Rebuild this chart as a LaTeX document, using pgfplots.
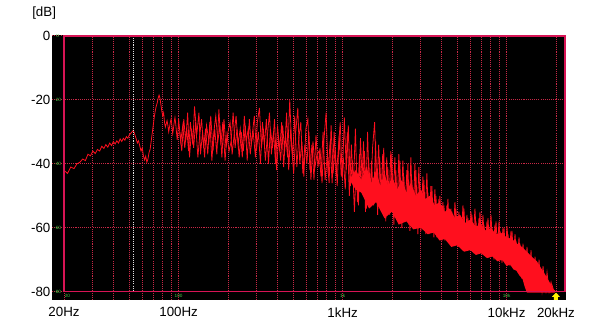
\documentclass[border=0pt]{standalone}
\usepackage{pgfplots}
\pgfplotsset{compat=1.18}
\usepackage{fontspec}
\setmainfont{Liberation Sans}
\definecolor{gridred}{RGB}{200,40,70}
\definecolor{framered}{RGB}{215,20,85}
\definecolor{specred}{RGB}{255,15,30}
\definecolor{tagg}{RGB}{70,200,70}
\begin{document}
\begin{tikzpicture}
\useasboundingbox (0,0) rectangle (450pt,249pt);
\node[anchor=base west,font=\fontsize{10}{12}\selectfont,inner sep=0pt] at (24pt,236.5pt) {[dB]};
\begin{axis}[
  at={(39pt,24pt)}, anchor=south west,
  scale only axis, width=385.5pt, height=198.75pt,
  xmode=log, xmin=16.9, xmax=23020, ymin=-82.6, ymax=0.3,
  axis background/.style={fill=black},
  axis line style={draw=none},
  major tick length=0pt, minor tick length=0pt,
  xtick={20,100,1000,10000,20000},
  xticklabels={20Hz,100Hz,1kHz,10kHz,20kHz},
  minor xtick={30,40,50,60,70,80,90,200,300,400,500,600,700,800,900,2000,3000,4000,5000,6000,7000,8000,9000},
  ytick={0,-20,-40,-60,-80},
  yticklabels={0,-20,-40,-60,-80},
  ticklabel style={font=\fontsize{10}{12}\selectfont},
  yticklabel style={inner sep=1pt},
  xticklabel style={yshift=-2pt},
  xmajorgrids, xminorgrids, ymajorgrids,
  major grid style={gridred, line width=0.7pt, dash pattern=on 0.8pt off 0.8pt},
  minor grid style={gridred, line width=0.7pt, dash pattern=on 0.8pt off 0.8pt},
  clip=true,
]
% dense high-frequency band
\addplot[fill=specred, draw=none] coordinates {
(1100,-45) (1200,-42) (1300,-45) (1400,-41) (1500,-46) (1600,-42) (1700,-47) (1800,-43) (1900,-47) (2000,-44) (2150,-48) (2300,-45) (2450,-49) (2600,-46) (2800,-50) (3000,-48) (3200,-51) (3400,-50) (3650,-53) (3900,-52) (4200,-55) (4500,-54) (4850,-57) (5200,-56) (5600,-58.5) (6000,-57.5) (6500,-59.5) (7000,-59) (7500,-61) (8000,-60) (8600,-62) (9200,-61.5) (10000,-63) (10800,-63.5) (11600,-65) (12400,-66) (13300,-67.5) (14200,-69) (15300,-70.5) (16400,-73) (17600,-75.5) (18700,-78) (19700,-80.3)
(13300,-80.3) (12900,-78.5) (12500,-76) (12000,-75) (11500,-73.5) (11000,-73) (10500,-71.5) (10000,-72) (9400,-70) (8800,-70.5) (8200,-69) (7600,-69.5) (7000,-68) (6500,-68.5) (6000,-67) (5500,-67.5) (5000,-65.5) (4600,-66) (4200,-63.5) (3900,-64) (3600,-61.5) (3300,-62) (3000,-60) (2700,-60.5) (2450,-58) (2200,-59) (2000,-55) (1800,-57) (1600,-52) (1450,-54) (1300,-49) (1200,-48)
} -- cycle;
% spectrum line (second interleaved trace)
\addplot[specred, line width=0.6pt] coordinates {
(101.5,-30) (104.5,-36) (107.5,-26) (110.5,-33) (113.5,-24) (116.5,-38) (120,-29) (123.5,-35) (127,-27) (131,-38)
(134.5,-31) (138,-26) (142,-35) (146,-29) (150.5,-37) (155,-27) (159.5,-39) (164,-30) (168.5,-25) (173.5,-33)
(178.5,-28) (183.5,-38) (189,-26) (194.5,-35) (200,-30) (206,-27) (212,-37) (218,-31) (224,-25) (230.5,-34)
(237.5,-29) (244.5,-38) (251.5,-25) (258.5,-33) (266,-29) (273.5,-37) (281,-31) (289.5,-25) (298,-36) (306.5,-30)
(315.5,-40) (324.5,-27) (333.5,-34) (343,-26) (353,-40) (363,-29) (373.5,-35) (384.5,-26) (395.5,-42) (407,-32)
(419,-39) (431,-28) (443,-36) (455.5,-24) (469,-42) (482.5,-29) (496,-38) (510.5,-25) (525.5,-41) (540.5,-32)
(556,-27) (572,-43) (588.5,-34) (605.5,-40) (623,-30) (641,-45) (659.5,-33) (678.5,-41) (698,-37)
(718,-36) (738,-44) (760,-30) (782,-45) (804,-38) (827,-46) (851,-28) (875,-43) (901,-35) (927,-47)
(953,-31) (981,-44) (1009,-38) (1038,-48) (1068,-30) (1099,-50) (1131,-34) (1163,-47) (1197,-29) (1231,-52)
(1267,-37) (1303,-49) (1341,-33) (1379,-55) (1419,-30) (1460,-51) (1502,-39) (1545,-53) (1589,-33) (1635,-56)
(1683,-38) (1731,-54) (1781,-35) (1832,-58) (1885,-41) (1939,-56) (1995,-37) (2053,-59) (2111,-42) (2171,-57)
(2233,-39) (2297,-60) (2363,-44) (2430,-58) (2500,-40) (2571,-61) (2644,-45) (2720,-59) (2797,-42) (2877,-62)
(2959,-46) (3044,-60) (3131,-45) (3220,-62) (3311,-49) (3405,-61) (3503,-47) (3603,-63) (3706,-50) (3812,-62)
(3921,-50) (4032,-64) (4147,-53) (4266,-63) (4387,-51) (4512,-65) (4641,-55) (4774,-64) (4910,-54) (5050,-66)
(5194,-56) (5342,-65) (5494,-54) (5651,-67) (5812,-57) (5978,-66) (6148,-56) (6324,-68) (6504,-58) (6690,-67)
(6880,-55) (7076,-68) (7278,-59) (7486,-69) (7699,-57) (7919,-68) (8145,-60) (8377,-70) (8616,-58) (8861,-69)
(9114,-61) (9374,-71) (9641,-60) (9916,-70) (10198,-62) (10489,-72) (10788,-61) (11096,-73) (11412,-64) (11738,-74)
(12072,-65) (12416,-76) (12770,-67) (13134,-78) (13509,-68) (13894,-80) (14290,-70) (14697,-80) (15116,-71) (15547,-80)
(15990,-73) (16446,-80) (16914,-75) (17396,-80) (17892,-77) (18402,-80) (18926,-78) (19465,-80)
};
% spectrum line (main trace)
\addplot[specred, line width=0.6pt] coordinates {
(20,-42) (21,-43) (22,-41) (23,-41.5) (24,-40) (25,-39.5) (26,-38.5) (27,-39) (28,-37) (29,-37.5)
(30,-36) (31,-36.8) (32,-35.5) (33,-36) (34,-34.5) (35,-35.2) (36,-34) (37,-34.8) (38,-33.5) (39,-34.3)
(40,-33) (41,-33.8) (42,-32.8) (43,-33.5) (44,-32.2) (45,-33) (46,-32) (47,-32.6) (48,-31.5) (49,-32)
(50,-31) (51,-30.5) (52,-30) (53,-29.5) (54,-30.8) (55,-32) (56,-33.5) (57,-32.8) (58,-34.5) (59,-36)
(60,-35) (61,-37.5) (62,-38.8) (63,-37.6) (64,-39.5) (65,-38.5) (66,-36.5) (67,-35.5) (68,-33) (69,-30.5)
(70,-28) (71,-25.5) (72,-23.5) (73,-22) (74,-21) (75,-19.5) (76,-18.5) (77,-19.5) (78,-21.5) (79,-23.5)
(80,-25) (81,-24) (82,-27) (83,-28.5) (84,-27.5) (85,-26.5) (86,-28) (87,-30) (88,-28.5) (89,-27)
(90,-26) (91,-28) (92,-30.5) (93,-29) (94,-27) (95,-25.5) (96,-27.5) (97,-30) (98,-32.5) (99,-30)
(100,-26) (103,-33) (106,-28) (109,-35) (112,-29) (115,-36) (118,-27) (122,-34) (125,-22) (129,-31)
(133,-24) (136,-37) (140,-30) (144,-38) (148,-28) (153,-33) (157,-25) (162,-36) (166,-29) (171,-37)
(176,-23) (181,-34) (186,-27) (192,-39) (197,-31) (203,-36) (209,-33) (215,-24) (221,-35) (227,-29)
(234,-38) (241,-30) (248,-36) (255,-28) (262,-39) (270,-26) (277,-34) (285,-30) (294,-38) (302,-27)
(311,-22.5) (320,-35) (329,-29) (338,-39) (348,-31) (358,-24) (368,-37) (379,-30) (390,-40) (401,-28)
(413,-36) (425,-27) (437,-41) (449,-31) (462,-38) (476,-20) (489,-35) (503,-43) (518,-30) (533,-22.5)
(548,-40) (564,-33) (580,-44) (597,-29) (614,-26) (632,-42) (650,-34) (669,-45) (688,-31) (708,-41)
(728,-35) (749,-46) (771,-32) (793,-24) (816,-43) (839,-33) (863,-46) (888,-30) (914,-44) (940,-36)
(967,-27) (995,-45) (1024,-25.5) (1053,-42) (1083,-28) (1115,-47) (1147,-39) (1180,-55) (1214,-40) (1249,-53)
(1285,-32) (1322,-48) (1360,-36) (1399,-54) (1439,-38) (1481,-50) (1523,-35) (1567,-27) (1612,-49) (1659,-34)
(1707,-52) (1756,-37) (1806,-57) (1858,-38) (1912,-55) (1967,-36) (2024,-53)
(2082,-38) (2141,-56) (2202,-37) (2265,-58) (2330,-39) (2396,-55) (2465,-42) (2535,-59) (2607,-38) (2682,-60)
(2758,-40) (2837,-58) (2918,-41) (3001,-61) (3087,-44) (3175,-59) (3265,-43) (3358,-62) (3454,-47) (3553,-60)
(3654,-48) (3758,-63) (3866,-51) (3976,-61) (4089,-52) (4206,-64) (4326,-53) (4449,-62) (4576,-54) (4707,-65)
(4841,-52) (4979,-63) (5121,-55) (5267,-66) (5417,-53) (5572,-64) (5731,-56) (5894,-67) (6062,-55) (6235,-65)
(6413,-54) (6596,-67) (6784,-57) (6977,-66) (7176,-56) (7381,-68) (7592,-58) (7808,-67) (8031,-56) (8260,-68)
(8495,-59) (8737,-69) (8986,-58) (9242,-68) (9506,-60) (9777,-70) (10055,-59.5) (10342,-69) (10637,-61) (10940,-71)
(11252,-62) (11573,-72) (11903,-63) (12242,-74) (12591,-65) (12950,-76) (13319,-66) (13699,-79) (14089,-67) (14491,-80)
(14904,-69) (15329,-80) (15766,-70) (16215,-80) (16677,-72) (17153,-80) (17642,-74) (18145,-80) (18662,-77) (19194,-80)
(19741,-79.5)
};
% cursor
\draw[white!75!gray, line width=0.6pt, dash pattern=on 0.8pt off 0.8pt] (axis cs:53,0) -- (axis cs:53,-80);
% frame
\draw[framered, line width=1.1pt] (axis cs:20,0) rectangle (axis cs:22700,-80);
% small green tags
\node[tagg, font=\fontsize{3.5}{4}\selectfont, inner sep=0pt] at (axis cs:18.3,0) {0};
\node[tagg, font=\fontsize{3.5}{4}\selectfont, inner sep=0pt] at (axis cs:18.3,-20) {-20};
\node[tagg, font=\fontsize{3.5}{4}\selectfont, inner sep=0pt] at (axis cs:18.3,-40) {-40};
\node[tagg, font=\fontsize{3.5}{4}\selectfont, inner sep=0pt] at (axis cs:18.3,-60) {-60};
\node[tagg, font=\fontsize{3.5}{4}\selectfont, inner sep=0pt] at (axis cs:18.3,-80) {-80};
\node[tagg, font=\fontsize{3.5}{4}\selectfont, inner sep=0pt] at (axis cs:21,-81.4) {20};
\node[tagg, font=\fontsize{3.5}{4}\selectfont, inner sep=0pt] at (axis cs:100,-81.4) {100};
\node[tagg, font=\fontsize{3.5}{4}\selectfont, inner sep=0pt] at (axis cs:1000,-81.4) {1k};
\node[tagg, font=\fontsize{3.5}{4}\selectfont, inner sep=0pt] at (axis cs:10000,-81.4) {10k};
% yellow arrow at 20 kHz
\fill[yellow] (axis cs:20000,-80.3) -- (axis cs:21160,-81.6) -- (axis cs:20570,-81.6) -- (axis cs:20570,-82.6) -- (axis cs:19450,-82.6) -- (axis cs:19450,-81.6) -- (axis cs:18900,-81.6) -- cycle;
\end{axis}
\end{tikzpicture}
\end{document}
